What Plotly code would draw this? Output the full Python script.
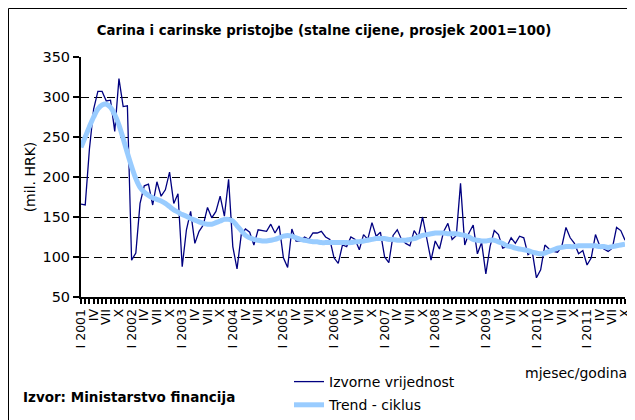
import plotly.graph_objects as go

roman = ["I", "II", "III", "IV", "V", "VI", "VII", "VIII", "IX", "X", "XI", "XII"]
years = list(range(2001, 2012))
n_months = 130  # I 2001 .. X 2011

izvorne = [
    166, 165, 235, 285, 307, 307, 295, 296, 257, 323, 288, 289,
    96, 105, 167, 189, 191, 165, 194, 176, 184, 206, 167, 179,
    88, 134, 157, 117, 132, 140, 162, 149, 157, 176, 151, 197,
    113, 85, 128, 135, 131, 115, 134, 133, 132, 141, 130, 139,
    99, 87, 135, 120, 120, 125, 122, 130, 130, 132, 125, 122,
    99, 92, 115, 113, 125, 122, 109, 128, 122, 143, 126, 131,
    100, 93, 127, 134, 122, 117, 114, 133, 125, 150, 122, 96,
    120, 110, 132, 142, 122, 127, 192, 115, 130, 140, 104, 118,
    79, 113, 133, 128, 111, 113, 124, 117, 126, 124, 103, 107,
    74, 84, 115, 110, 107, 106, 113, 137, 124, 117, 104, 108,
    90, 99, 128, 114, 110, 107, 111, 137, 133, 121,
]

trend = [
    237, 250, 263, 275, 285, 290, 291, 287, 278, 265, 248, 230,
    213, 198, 187, 181, 177, 174, 172, 170, 167, 163, 159, 156,
    153, 151, 148, 146, 144, 142, 141, 141, 143, 145, 147, 147,
    145, 139, 133, 127, 124, 122, 121, 120, 120, 121, 122, 124,
    126, 127, 126, 124, 122, 121, 120, 119, 119, 118, 118, 118,
    118, 118, 118, 118, 118, 119, 119, 120, 121, 122, 123, 123,
    123, 122, 122, 121, 121, 121, 122, 123, 125, 127, 128, 129,
    130, 130, 130, 129, 129, 129, 128, 127, 125, 122, 121, 120,
    120, 121, 121, 119, 117, 114, 113, 111, 110, 109, 108, 106,
    105, 104, 105, 107, 109, 111, 112, 113, 113, 113, 114, 114,
    114, 114, 114, 113, 113, 112, 113, 114, 115, 116,
]

months = list(range(n_months))
tick_vals = [m for m in months if m % 3 == 0]
tick_text = []
for m in tick_vals:
    mo = m % 12
    if mo == 0:
        tick_text.append(f"I {years[m // 12]}")
    else:
        tick_text.append(roman[mo])

FONT = "DejaVu Sans, Liberation Sans, Arial, sans-serif"

# the page body adds an 8px offset, so the figure is 8px smaller each way
W, H = 627, 412
L, R, T, B = 73, 10, 49, 123
PW, PH = W - L - R, H - T - B


def px_x(fx):
    return (fx - L) / PW


def px_y(fy):
    return (H - B - fy) / PH


fig = go.Figure()
fig.add_trace(go.Scatter(
    x=months, y=izvorne, mode="lines", name="Izvorne vrijednost",
    line=dict(color="#000080", width=1.3), legendgroup="a",
))
fig.add_trace(go.Scatter(
    x=months, y=trend, mode="lines", name="Trend - ciklus",
    line=dict(color="#99CCFF", width=5, shape="spline"), legendgroup="b",
))

fig.update_layout(
    width=W, height=H,
    margin=dict(l=L, r=R, t=T, b=B, autoexpand=False),
    paper_bgcolor="white", plot_bgcolor="white",
    font=dict(family=FONT, size=13, color="black"),
    title=dict(
        text="<b>Carina i carinske pristojbe (stalne cijene, prosjek 2001=100)</b>",
        x=316 / W, xanchor="center", y=1 - 22 / H, yanchor="middle",
        font=dict(family=FONT, size=13.3, color="black"),
    ),
    showlegend=True,
    legend=dict(
        x=px_x(281), y=px_y(358), xanchor="left", yanchor="top",
        bgcolor="rgba(0,0,0,0)", font=dict(family=FONT, size=14),
        traceorder="grouped", tracegroupgap=2,
    ),
    xaxis=dict(
        range=[0, n_months - 1], tickmode="array", tickvals=tick_vals,
        ticktext=tick_text, tickangle=-90, ticks="outside", ticklen=5,
        tickwidth=1.5, tickcolor="black",
        tickfont=dict(family=FONT, size=12.5, color="black"),
        showline=True, linecolor="black", linewidth=2, showgrid=False,
        zeroline=False, automargin=False,
        minor=dict(ticks="outside", tickmode="linear", tick0=0, dtick=1,
                   ticklen=5, tickwidth=1.5, tickcolor="black", showgrid=False),
    ),
    yaxis=dict(
        range=[50, 350], tickmode="linear", tick0=50, dtick=50,
        ticks="outside", ticklen=6, tickwidth=2, tickcolor="black",
        tickfont=dict(family=FONT, size=14.5, color="black"),
        showline=True, linecolor="black", linewidth=2,
        showgrid=True, gridcolor="black", gridwidth=1, griddash="8px,5px",
        zeroline=False, automargin=False,
        title=dict(text="(mil. HRK)", standoff=4,
                   font=dict(family=FONT, size=14, color="black")),
    ),
    shapes=[dict(
        type="rect", xref="paper", yref="paper",
        x0=px_x(0.5), x1=px_x(700), y0=px_y(500), y1=px_y(0.5),
        line=dict(color="black", width=1), fillcolor="rgba(0,0,0,0)",
        layer="above",
    )],
    annotations=[
        dict(text="mjesec/godina", xref="paper", yref="paper",
             x=px_x(621), y=px_y(365), xanchor="right",
             yanchor="middle", showarrow=False,
             font=dict(family=FONT, size=14, color="black")),
        dict(text="<b>Izvor: Ministarstvo financija</b>", xref="paper", yref="paper",
             x=px_x(13), y=px_y(389), xanchor="left",
             yanchor="middle", showarrow=False,
             font=dict(family=FONT, size=13.5, color="black")),
    ],
)

fig.write_html("out.html")
